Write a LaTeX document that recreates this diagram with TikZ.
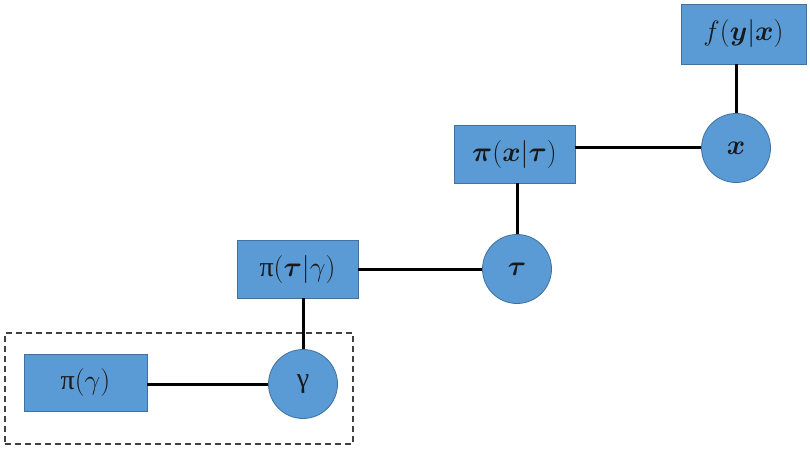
\RequirePackage{fix-cm}
\documentclass[tikz,border=0pt]{standalone}
\usepackage{amsmath,bm}
\usepackage{fontspec}
\newfontfamily\grk{Liberation Serif}
\definecolor{boxblue}{HTML}{5B9BD5}
\definecolor{edgeblue}{HTML}{41719C}
\begin{document}
\begin{tikzpicture}[x=1pt,y=-1pt,
  factor/.style={draw=edgeblue,line width=0.8pt,fill=boxblue,rectangle,inner sep=0pt,text=black!90,font=\fontsize{28}{32}\selectfont},
  varnode/.style={draw=edgeblue,line width=0.8pt,fill=boxblue,circle,inner sep=0pt,minimum size=69pt,text=black!90,font=\fontsize{28}{32}\selectfont},
  link/.style={line width=3pt,black}]
\useasboundingbox (0,0) rectangle (810,449);
\node[factor,minimum width=123pt,minimum height=57pt] (pg) at (85.5,382.5) {{\grk π}$(\gamma)$};
\node[varnode] (g) at (303,384) {{\grk γ}};
\node[factor,minimum width=121pt,minimum height=58pt] (ptg) at (297.5,269) {{\grk π}$(\bm{\tau}|\gamma)$};
\node[varnode] (t) at (517,269) {$\bm{\tau}$};
\node[factor,minimum width=121pt,minimum height=58pt] (pxt) at (514.5,154) {$\bm{\pi}(\bm{x}|\bm{\tau})$};
\node[varnode] (x) at (736,148) {$\bm{x}$};
\node[factor,minimum width=125pt,minimum height=60pt] (fyx) at (743.5,34) {$f(\bm{y}|\bm{x})$};
\draw[link] (pg.east |- g) -- (g);
\draw[link] (ptg.east |- t) -- (t);
\draw[link] (pxt.east |- x) -- (x);
\draw[link] (g |- ptg.south) -- (g);
\draw[link] (t |- pxt.south) -- (t);
\draw[link] (x |- fyx.south) -- (x);
\node[draw=black!75,dash pattern=on 6pt off 4pt,line width=1.6pt,minimum width=348pt,minimum height=111pt,inner sep=0pt] (grp) at (179,388.5) {};
\end{tikzpicture}
\end{document}
